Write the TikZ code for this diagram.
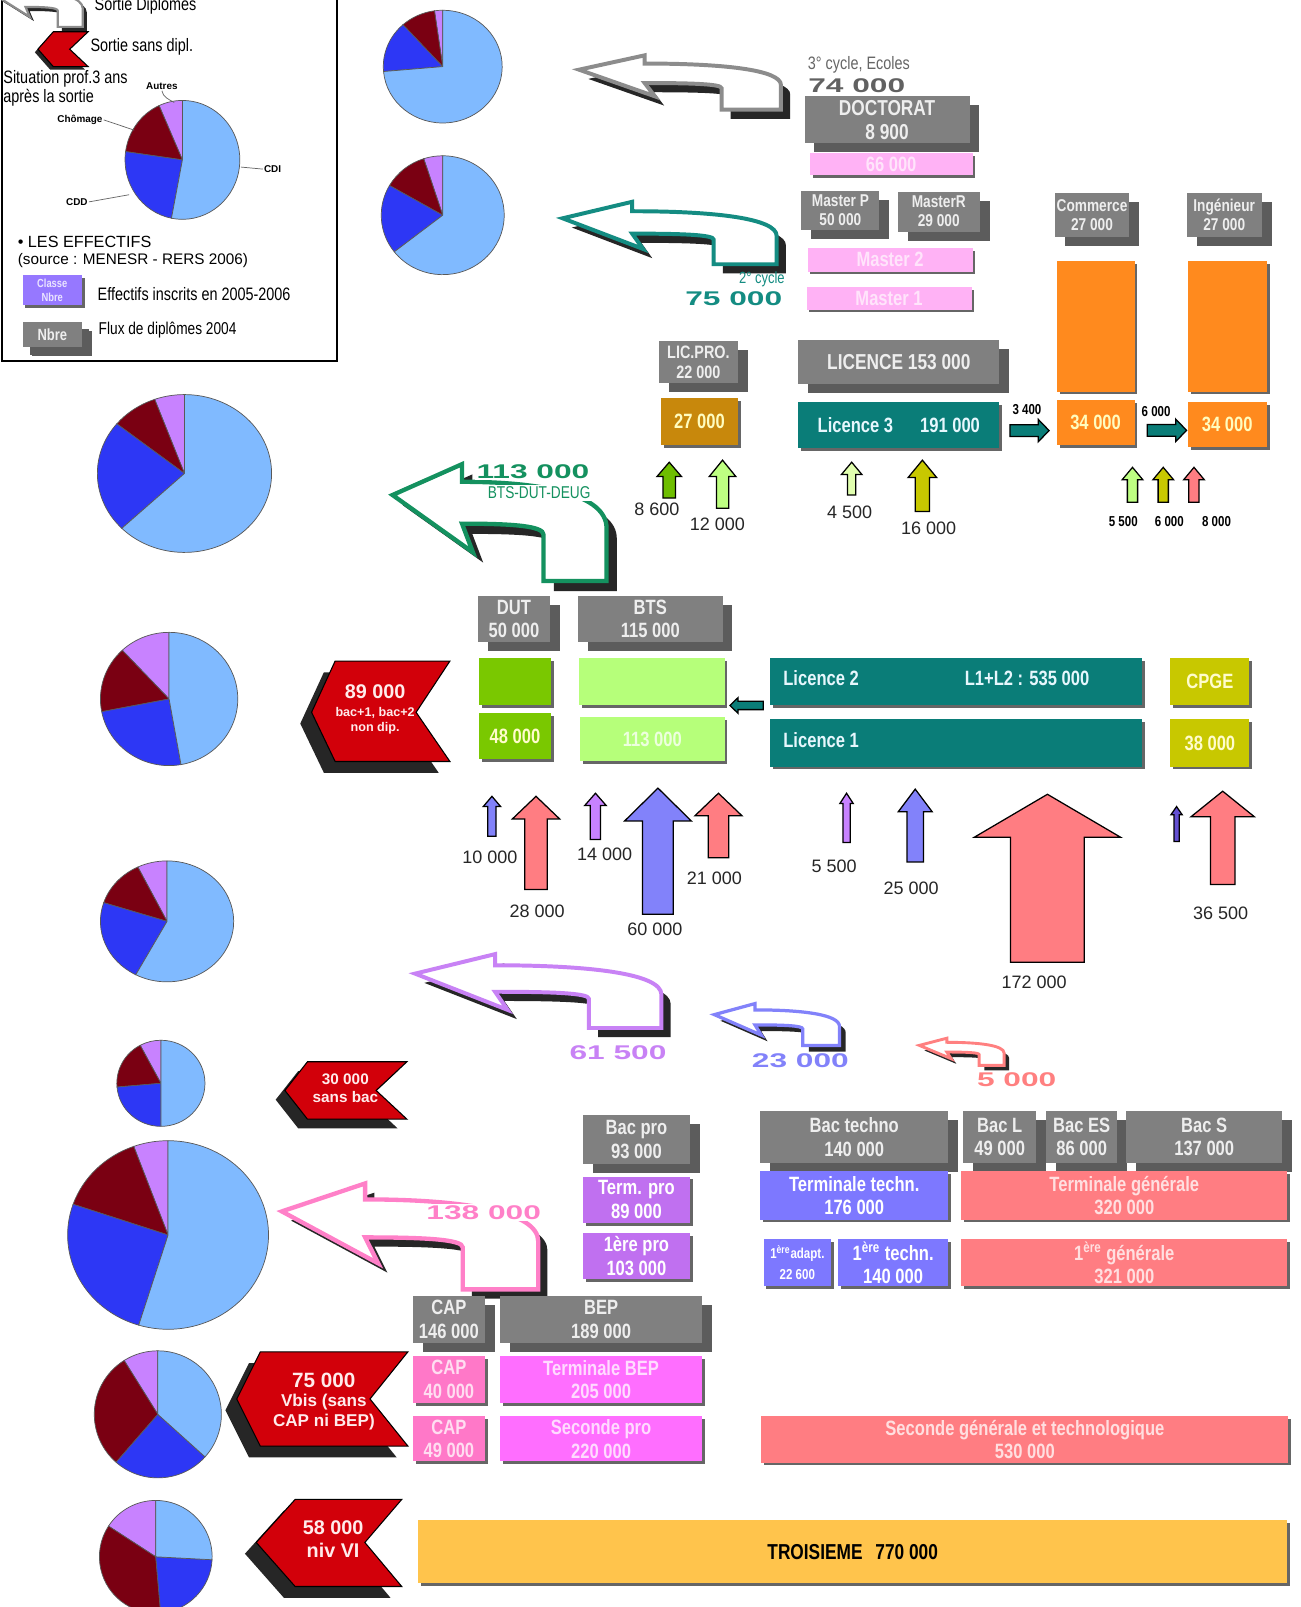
\documentclass[tikz,border=0pt]{standalone}
\usepackage{fontspec}
\setmainfont{Liberation Sans}
\newfontfamily\narrowfont{Liberation Sans}[FakeStretch=0.8]
\newfontfamily\widefont{Liberation Sans}[FakeStretch=1.6]
\usetikzlibrary{shadows,calc}

\definecolor{fluxgray}{RGB}{128,128,128}
\definecolor{fluxshade}{RGB}{92,92,92}
\definecolor{fluxtxt}{RGB}{238,238,238}
\definecolor{pinkM}{RGB}{255,178,245}
\definecolor{orangeE}{RGB}{255,138,30}
\definecolor{brownLP}{RGB}{200,136,12}
\definecolor{tealL}{RGB}{10,125,120}
\definecolor{greenDUT}{RGB}{122,200,0}
\definecolor{greenBTS}{RGB}{182,255,122}
\definecolor{oliveC}{RGB}{200,200,0}
\definecolor{violetP}{RGB}{192,112,240}
\definecolor{blueT}{RGB}{125,120,255}
\definecolor{salmonG}{RGB}{255,125,130}
\definecolor{pinkCAP}{RGB}{255,120,200}
\definecolor{magBEP}{RGB}{255,110,255}
\definecolor{yellowT}{RGB}{255,196,76}
\definecolor{sortred}{RGB}{210,0,10}
\definecolor{pielight}{RGB}{128,186,255}
\definecolor{pieblue}{RGB}{45,55,245}
\definecolor{piered}{RGB}{122,0,18}
\definecolor{pielilac}{RGB}{200,130,255}
\definecolor{arrgray}{RGB}{140,140,140}
\definecolor{arrteal}{RGB}{20,140,130}
\definecolor{arrgreen}{RGB}{20,145,95}
\definecolor{arrviolet}{RGB}{200,130,245}
\definecolor{arrblue}{RGB}{130,130,250}
\definecolor{arrsalmon}{RGB}{255,128,128}
\definecolor{arrpink}{RGB}{255,128,200}
\definecolor{lightgr}{RGB}{190,255,130}
\definecolor{palegr}{RGB}{225,255,175}
\definecolor{yellowgr}{RGB}{110,190,0}
\definecolor{darkblv}{RGB}{100,80,210}
\definecolor{legviolet}{RGB}{150,120,255}

\newcommand{\boxfont}{\narrowfont\bfseries\fontsize{11.5}{13}\selectfont}
\newcommand{\smallbox}{\narrowfont\bfseries\fontsize{9.5}{10.5}\selectfont}
\newcommand{\bignum}{\widefont\bfseries\fontsize{11}{13}\selectfont}

% box by its corners: style, x1, y1, x2, y2, name, text
\newcommand{\cbox}[7]{%
  \node[#1, minimum width={(#4-#2)*0.02cm}, minimum height={(#5-#3)*0.02cm}] (#6) at ({(#2+#4)/2},{(#3+#5)/2}) {#7};}

% pie: x, y, rx, ry, lilac|red, red|blue, blue|light
\newcommand{\camembert}[7]{%
  \begin{scope}[shift={(#1,#2)}, x={(#3*0.02cm,0cm)}, y={(0cm,#4*0.02cm)}]
    \filldraw[pieline, fill=pielilac] (0,0) -- (90:1) arc[start angle=90, end angle=#5, radius=1] -- cycle;
    \filldraw[pieline, fill=piered] (0,0) -- (#5:1) arc[start angle=#5, end angle=#6, radius=1] -- cycle;
    \filldraw[pieline, fill=pieblue] (0,0) -- (#6:1) arc[start angle=#6, end angle=#7, radius=1] -- cycle;
    \filldraw[pieline, fill=pielight] (0,0) -- (#7:1) arc[start angle=#7, end angle=450, radius=1] -- cycle;
  \end{scope}}

% curved exit arrow: colour, tip x, tip y, xscale, yscale, line width, shadow offset
\newcommand{\sortie}[7]{%
  \begin{scope}[shift={(#2+#7,#3+#7)}, xscale=#4, yscale=#5]
    \fill[black!85] (0,0) -- (64,-14) -- (64,-6) .. controls (140,-6) and (197,0) .. (197,15)
      -- (197,39) -- (139,39) -- (139,18) .. controls (139,14) and (110,13) .. (64,13) -- (74,26) -- cycle;
  \end{scope}
  \begin{scope}[shift={(#2,#3)}, xscale=#4, yscale=#5]
    \filldraw[fill=white, draw=#1, line width=#6, line join=miter] (0,0) -- (64,-14) -- (64,-6) .. controls (140,-6) and (197,0) .. (197,15)
      -- (197,39) -- (139,39) -- (139,18) .. controls (139,14) and (110,13) .. (64,13) -- (74,26) -- cycle;
  \end{scope}}

% red chevron: tip x, mid y, corner x, right x, notch x, top y, bottom y, shadow
\newcommand{\sortiechevron}[8]{%
  \fill[black!85] (#1-#8,#2+#8) -- (#3-#8,#6+#8) -- (#4-#8,#6+#8) -- (#5-#8,#2+#8) -- (#4-#8,#7+#8) -- (#3-#8,#7+#8) -- cycle;
  \filldraw[fill=sortred, draw=black, line width=0.6pt, line join=miter] (#1,#2) -- (#3,#6) -- (#4,#6) -- (#5,#2) -- (#4,#7) -- (#3,#7) -- cycle;}

% up arrow: x, top, bottom, shaft, head, head length, colour
\newcommand{\uparr}[7]{%
  \filldraw[fill=#7, draw=black, line width=0.7pt, line join=miter]
    (#1-#4,#3) -- (#1-#4,#2+#6) -- (#1-#5,#2+#6) -- (#1,#2) -- (#1+#5,#2+#6) -- (#1+#4,#2+#6) -- (#1+#4,#3) -- cycle;}

% block arrow between two anchors
\newcommand{\hblock}[5]{%
  \filldraw[blockarr] let \p1=(#1), \p2=(#2) in
    ({\x1},{\y1+#3}) -- ({\x2-1*#5},{\y1+#3}) -- ({\x2-1*#5},{\y1+#4}) -- ({\x2},{\y1})
    -- ({\x2-1*#5},{\y1-#4}) -- ({\x2-1*#5},{\y1-#3}) -- ({\x1},{\y1-#3}) -- cycle;}

\tikzset{
  diplo/.style={rectangle, fill=fluxgray, text=fluxtxt, font=\boxfont, align=center, inner sep=0pt,
    general shadow={fill=fluxshade, shadow xshift=5.5pt, shadow yshift=-5pt}},
  classe/.style={rectangle, text=white, font=\boxfont, align=center, inner sep=0pt,
    general shadow={fill=black!60, shadow xshift=1.6pt, shadow yshift=-1.6pt}},
  effnum/.style={font=\fontsize{10}{12}\selectfont, text=black!85, inner sep=1pt},
  smallnum/.style={font=\narrowfont\bfseries\fontsize{8}{9}\selectfont, inner sep=1pt},
  sortnum/.style={font=\bignum, inner sep=1pt},
  chevtxt/.style={text=white!92!red, font=\bfseries\fontsize{11}{13}\selectfont, inner sep=0pt, align=center},
  legtxt/.style={font=\narrowfont\fontsize{10}{11}\selectfont, anchor=west, inner sep=0pt, align=left},
  pielbl/.style={font=\bfseries\fontsize{5.5}{6}\selectfont, inner sep=0.5pt},
  blockarr/.style={fill=tealL, draw=black, line width=0.7pt, line join=miter},
  pieline/.style={draw=black!65, line width=0.4pt}
}

\begin{document}
\begin{tikzpicture}[x=0.02cm, y=-0.02cm]
\useasboundingbox (0,0) rectangle (1269,1568);
\fill[white] (0,0) rectangle (1269,1568);
\begin{scope}
\clip (0,0) rectangle (1269,1568);

% legend
\draw[line width=1.2pt] (2,-10) rectangle (329,352);
\sortie{arrgray}{-2}{-3}{0.42}{0.75}{1.2pt}{4}
\node[legtxt] (legdip) at (92,6) {Sortie Diplômes};
\sortiechevron{37}{48}{52}{86}{68}{31}{65}{3}
\node[legtxt] (legsans) at (88,46) {Sortie sans dipl.};
\node[legtxt, anchor=north west] (legsit) at (3,68) {Situation prof.3 ans\\après la sortie};
\camembert{178}{156}{56}{58}{114}{172}{259}
\node[pielbl] (lAut) at (158,84) {Autres};
\node[pielbl] (lCho) at (78,117) {Chômage};
\node[pielbl] (lCdi) at (266,165) {CDI};
\node[pielbl] (lCdd) at (75,197) {CDD};
\coordinate (eAut) at (170,100);
\coordinate (eCho) at (131,127);
\coordinate (eCdi) at (235,163);
\coordinate (eCdd) at (126,190);
\draw[black!60, line width=0.4pt] (lAut.south) to[out=-80, in=150] (eAut);
\draw[black!60, line width=0.4pt] (lCho.east) -- (eCho);
\draw[black!60, line width=0.4pt] (lCdi.west) -- (eCdi);
\draw[black!60, line width=0.4pt] (lCdd.east) -- (eCdd);
\node[anchor=west, inner sep=0pt, font=\fontsize{9}{10}\selectfont] (legeff) at (17,236) {\textbullet\ LES EFFECTIFS};
\node[anchor=west, inner sep=0pt, font=\fontsize{8.5}{10}\selectfont] (legsrc) at (17,254) {(source : MENESR - RERS 2006)};
\cbox{classe, fill=legviolet, text=white!80!legviolet, font=\narrowfont\bfseries\fontsize{6.5}{8}\selectfont}{22}{268}{80}{298}{legcl}{Classe\\Nbre}
\node[legtxt] (legins) at (95,287) {Effectifs inscrits en 2005-2006};
\cbox{diplo, font=\narrowfont\bfseries\fontsize{9}{10}\selectfont, general shadow={fill=fluxshade, shadow xshift=4pt, shadow yshift=-4pt}}{22}{314}{80}{339}{legnb}{Nbre}
\node[legtxt, font=\narrowfont\fontsize{9.5}{11}\selectfont] (legflux) at (96,322) {Flux de diplômes 2004};

% pies
\camembert{432}{65}{58}{55}{98}{132}{185}
\camembert{432}{210}{60}{58}{108}{150}{218}
\camembert{180}{462}{85}{77}{110}{141}{224}
\camembert{165}{682}{67}{65}{133}{191}{280}
\camembert{163}{899}{65}{59}{116}{162}{242}
\camembert{157}{1057}{43}{42}{118}{185}{270}
\camembert{164}{1205}{98}{92}{110}{161}{253}
\camembert{154}{1380}{62}{62}{122}{229}{318}
\camembert{152}{1519}{55}{55}{147}{275}{357}

% exits with diploma
\sortie{arrgray}{565}{68}{1}{1}{2.2pt}{9}
\sortie{arrteal}{549}{213}{1.06}{1.15}{2.2pt}{9}
\sortie{arrgreen}{383}{483}{1.06}{2.15}{2.4pt}{10}
\sortie{arrviolet}{405}{950}{1.22}{1.36}{2.2pt}{9}
\sortie{arrblue}{697}{990}{0.62}{0.77}{1.8pt}{6}
\sortie{arrsalmon}{897}{1020}{0.42}{0.5}{1.6pt}{5}
\sortie{arrpink}{275}{1182}{1.27}{1.95}{2.4pt}{9}

\node[font=\narrowfont\fontsize{10}{11}\selectfont, text=black!60, inner sep=0pt] (cyc3) at (838,63) {3° cycle, Ecoles};
\node[sortnum, text=black!62] (n74) at (836,84) {74 000};
\node[font=\narrowfont\fontsize{9}{10}\selectfont, text=arrteal, inner sep=0pt, anchor=east] (cyc2) at (766,273) {2° cycle};
\node[sortnum, text=arrteal] (n75) at (716,291) {75 000};
\node[sortnum, text=arrgreen, fill=white] (n113) at (520,460) {113 000};
\node[font=\narrowfont\fontsize{9.5}{10}\selectfont, text=arrgreen, fill=white, inner sep=1pt] (nbts) at (526,481) {BTS-DUT-DEUG};
\node[sortnum, text=arrviolet] (n615) at (603,1027) {61 500};
\node[sortnum, text=arrblue] (n23) at (781,1035) {23 000};
\node[sortnum, text=arrsalmon] (n5) at (992,1053) {5 000};
\node[sortnum, text=arrpink, fill=white] (n138) at (472,1183) {138 000};

% exits without diploma
\sortiechevron{304}{695}{327}{439}{406}{645}{743}{11}
\node[chevtxt] (c89) at (366,675) {89 000};
\node[chevtxt, font=\bfseries\fontsize{7}{8.5}\selectfont] (c89b) at (366,703) {bac+1, bac+2\\non dip.};
\sortiechevron{278}{1064}{300}{397}{367}{1036}{1092}{9}
\node[chevtxt, font=\bfseries\fontsize{8.5}{10}\selectfont] (c30) at (337,1062) {30 000\\sans bac};
\sortiechevron{231}{1365}{254}{398}{361}{1319}{1411}{11}
\node[chevtxt, font=\bfseries\fontsize{11.5}{13}\selectfont] (c75) at (316,1347) {75 000};
\node[chevtxt, font=\bfseries\fontsize{9.5}{11.3}\selectfont] (c75b) at (316,1378) {Vbis (sans\\CAP ni BEP)};
\sortiechevron{250}{1505}{288}{392}{356}{1463}{1548}{11}
\node[chevtxt, font=\bfseries\fontsize{11}{13}\selectfont] (c58) at (325,1502) {58 000\\niv VI};

% doctorat, masters, ecoles
\cbox{diplo, font=\narrowfont\bfseries\fontsize{12}{13}\selectfont}{785}{94}{946}{140}{doct}{DOCTORAT\\8 900}
\cbox{classe, fill=pinkM, text=pinkM!35!white}{790}{149}{949}{171}{doc66}{66 000}
\cbox{diplo, font=\smallbox}{782}{186}{858}{224}{mastp}{Master P\\50 000}
\cbox{diplo, font=\smallbox}{876}{187}{956}{226}{mastr}{MasterR\\29 000}
\cbox{classe, fill=pinkM, text=pinkM!35!white}{788}{242}{949}{265}{mast2}{Master 2}
\cbox{classe, fill=pinkM, text=pinkM!35!white}{787}{280}{948}{302}{mast1}{Master 1}
\cbox{diplo, font=\smallbox}{1029}{188}{1102}{231}{comg}{Commerce\\27 000}
\cbox{diplo, font=\smallbox}{1158}{188}{1231}{231}{ingg}{Ingénieur\\27 000}
\cbox{classe, fill=orangeE}{1031}{255}{1107}{382}{comt}{}
\cbox{classe, fill=orangeE}{1159}{255}{1236}{382}{ingt}{}
\cbox{classe, fill=orangeE, text=yellow!25!white}{1031}{390}{1107}{434}{com34}{34 000}
\cbox{classe, fill=orangeE, text=yellow!25!white}{1159}{392}{1236}{436}{ing34}{34 000}

% licence
\cbox{diplo, font=\narrowfont\bfseries\fontsize{10}{11}\selectfont}{643}{333}{720}{374}{licpro}{LIC.PRO.\\22 000}
\cbox{classe, fill=brownLP, text=yellow!25!white}{645}{388}{720}{434}{lp27}{27 000}
\cbox{diplo, font=\narrowfont\bfseries\fontsize{12}{13}\selectfont}{779}{332}{975}{375}{licg}{LICENCE 153 000}
\cbox{classe, fill=tealL, text=cyan!10!white}{779}{392}{975}{437}{lic3}{Licence 3\hspace{1.3em}191 000}

% bac+1, bac+2
\cbox{diplo}{466}{582}{537}{626}{dut}{DUT\\50 000}
\cbox{diplo}{564}{582}{705}{626}{bts}{BTS\\115 000}
\cbox{classe, fill=greenDUT}{467}{642}{538}{688}{dutg}{}
\cbox{classe, fill=greenDUT, text=yellow!20!white}{467}{696}{538}{741}{dut48}{48 000}
\cbox{classe, fill=greenBTS}{565}{642}{707}{688}{btsg}{}
\cbox{classe, fill=greenBTS, text=greenBTS!25!white}{566}{700}{707}{743}{bts113}{113 000}
\cbox{classe, fill=tealL}{751}{642}{1114}{688}{lic2}{}
\cbox{classe, fill=tealL}{751}{702}{1114}{748}{lic1}{}
\node[font=\boxfont, text=cyan!10!white, anchor=west, inner sep=0pt] (l2name) at (764,662) {Licence 2};
\node[font=\boxfont, text=cyan!10!white, anchor=west, inner sep=0pt] (l2tot) at (941,662) {L1+L2 : 535 000};
\node[font=\boxfont, text=cyan!10!white, anchor=west, inner sep=0pt] (l1name) at (764,722) {Licence 1};
\cbox{classe, fill=oliveC, text=yellow!20!white}{1142}{642}{1219}{688}{cpge}{CPGE}
\cbox{classe, fill=oliveC, text=yellow!20!white}{1142}{702}{1219}{748}{cp38}{38 000}

% passerelles
\hblock{[xshift=5.7pt,yshift=-3.2pt]lic3.east}{[xshift=-4pt]com34.west}{3.3pt}{6.2pt}{6pt}
\hblock{[xshift=6.8pt,yshift=-4.5pt]com34.east}{[xshift=-0.5pt]ing34.west}{3.3pt}{6.2pt}{6pt}
\hblock{[xshift=-3.4pt]lic2.south west}{[xshift=2.8pt]btsg.south east}{2.3pt}{4.4pt}{-4.5pt}
\node[smallnum] (p3400) at (1002,400) {3 400};
\node[smallnum] (p6000) at (1128,402) {6 000};

% lycee
\cbox{diplo}{569}{1088}{673}{1136}{bacpro}{Bac pro\\93 000}
\cbox{classe, fill=violetP}{569}{1148}{673}{1193}{tpro}{Term. pro\\89 000}
\cbox{classe, fill=violetP}{569}{1203}{673}{1248}{ppro}{1ère pro\\103 000}
\cbox{diplo}{742}{1084}{925}{1135}{bact}{Bac techno\\140 000}
\cbox{diplo}{940}{1084}{1011}{1135}{bacl}{Bac L\\49 000}
\cbox{diplo}{1021}{1084}{1090}{1135}{bace}{Bac ES\\86 000}
\cbox{diplo}{1099}{1084}{1251}{1135}{bacs}{Bac S\\137 000}
\cbox{classe, fill=blueT}{742}{1143}{925}{1190}{ttech}{Terminale techn.\\176 000}
\cbox{classe, fill=salmonG, text=salmonG!25!white}{938}{1143}{1256}{1190}{tgen}{Terminale générale\\320 000}
\cbox{classe, fill=blueT, font=\narrowfont\bfseries\fontsize{8}{12}\selectfont}{745}{1209}{811}{1255}{padapt}{1\textsuperscript{ère}adapt.\\22 600}
\cbox{classe, fill=blueT}{818}{1209}{925}{1255}{ptech}{1\textsuperscript{ère} techn.\\140 000}
\cbox{classe, fill=salmonG, text=salmonG!25!white}{938}{1209}{1256}{1255}{pgen}{1\textsuperscript{ère} générale\\321 000}

% cap, bep
\cbox{diplo}{403}{1265}{473}{1310}{capg}{CAP\\146 000}
\cbox{diplo}{488}{1265}{685}{1310}{bepg}{BEP\\189 000}
\cbox{classe, fill=pinkCAP, text=pinkCAP!25!white}{403}{1323}{473}{1369}{cap40}{CAP\\40 000}
\cbox{classe, fill=magBEP, text=magBEP!25!white}{488}{1323}{685}{1369}{tbep}{Terminale BEP\\205 000}
\cbox{classe, fill=pinkCAP, text=pinkCAP!25!white}{403}{1382}{473}{1426}{cap49}{CAP\\49 000}
\cbox{classe, fill=magBEP, text=magBEP!25!white}{488}{1382}{685}{1426}{spro}{Seconde pro\\220 000}
\cbox{classe, fill=salmonG, text=salmonG!25!white}{743}{1382}{1257}{1427}{sgt}{Seconde générale et technologique\\530 000}
\cbox{classe, fill=yellowT, text=black, font=\narrowfont\bfseries\fontsize{12}{13}\selectfont}{408}{1483}{1256}{1545}{trois}{TROISIEME\hspace{0.6em}770 000}

% entrees
\uparr{1105}{456}{490}{5}{10}{12}{lightgr}
\uparr{1135}{456}{490}{5}{10}{12}{oliveC}
\uparr{1165}{456}{490}{5}{10}{12}{salmonG}
\uparr{653}{451}{486}{6}{12}{14}{yellowgr}
\uparr{705}{449}{496}{6}{13}{16}{lightgr}
\uparr{831}{451}{483}{4}{10}{12}{palegr}
\uparr{900}{449}{499}{7}{14}{17}{oliveC}
\uparr{480}{777}{816}{4}{8.5}{10}{arrblue}
\uparr{523}{777}{868}{11}{23}{22}{salmonG}
\uparr{581}{774}{819}{5}{10.5}{12}{pielilac}
\uparr{642}{769}{892}{15}{32.5}{32}{arrblue}
\uparr{701}{774}{837}{10}{23}{22}{salmonG}
\uparr{826}{774}{822}{3.5}{6.5}{10}{pielilac}
\uparr{893}{770}{841}{8}{16.5}{22}{arrblue}
\uparr{1022}{775}{939}{36}{71.5}{42}{salmonG}
\uparr{1148}{787}{821}{2.5}{5.5}{8}{darkblv}
\uparr{1193}{772}{863}{12}{31}{25}{salmonG}

\node[smallnum] (e5500) at (1096,509) {5 500};
\node[smallnum] (e6000) at (1141,509) {6 000};
\node[smallnum] (e8000) at (1187,509) {8 000};
\node[effnum] (e8600) at (641,497) {8 600};
\node[effnum] (e12000) at (700,512) {12 000};
\node[effnum] (e4500) at (829,500) {4 500};
\node[effnum] (e16000) at (906,515) {16 000};
\node[effnum] (e10000) at (478,836) {10 000};
\node[effnum] (e28000) at (524,889) {28 000};
\node[effnum] (e14000) at (590,834) {14 000};
\node[effnum] (e60000) at (639,907) {60 000};
\node[effnum] (e21000) at (697,857) {21 000};
\node[effnum] (e5500b) at (814,845) {5 500};
\node[effnum] (e25000) at (889,867) {25 000};
\node[effnum] (e172000) at (1009,958) {172 000};
\node[effnum] (e36500) at (1191,891) {36 500};
\end{scope}
\end{tikzpicture}
\end{document}
